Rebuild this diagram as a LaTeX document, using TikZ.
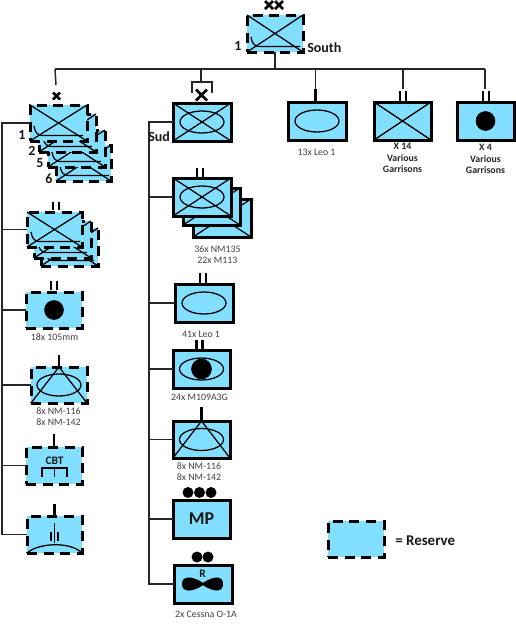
\documentclass[tikz,border=0pt]{standalone}
\usepackage{fontspec}
\setmainfont{Carlito}
\usetikzlibrary{fit}
\definecolor{unitfill}{HTML}{82DFFF}
\definecolor{labelgrey}{HTML}{404040}
\tikzset{
  solidunit/.style={draw=black,fill=unitfill,line width=2.25pt,inner sep=0pt,outer sep=0pt,rectangle},
  reserve/.style={draw=black,fill=unitfill,line width=2.25pt,inner sep=0pt,outer sep=0pt,rectangle,dash pattern=on 7.5pt off 5pt,line cap=butt},
  link/.style={draw=black!85,line width=1.1pt},
  sym/.style={draw=black,line width=0.95pt},
  tick/.style={draw=black,line width=2.2pt},
  caplab/.style={font=\fontsize{7.4}{8.2}\selectfont,text=labelgrey,align=center,inner sep=0pt},
  boldcap/.style={font=\bfseries\fontsize{7.4}{8.6}\selectfont,text=black!85,align=center,inner sep=0pt},
  biglab/.style={font=\bfseries\fontsize{10.5}{12}\selectfont,text=black!90,inner sep=0pt},
}
\newcommand\ubox[6]{\node[#1,fit={(#3+1,#4+1)(#5-1,#6-1)}] (#2) {};}
\newcommand\crossin[1]{\draw[sym] (#1.north west) -- (#1.south east) (#1.south west) -- (#1.north east);}
\newcommand\curl[1]{\begin{scope}[shift={(#1.south west)}]\draw[sym] (4,-15) .. controls (5,-9) and (7,-6) .. (12,-5.5) -- (53,-5.5);\end{scope}}
\newcommand\ellin[1]{\draw[sym] (#1.center) ellipse (22 and 11);}
\newcommand\triin[1]{\draw[sym] (#1.north) -- (#1.south west) (#1.north) -- (#1.south east);}
\newcommand\twoticks[3]{\draw[tick] (#1-3,#2) -- (#1-3,#3) (#1+3,#2) -- (#1+3,#3);}
\newcommand\bigx[3]{\draw[draw=black,line width=2pt] (#1-#3,#2-#3) -- (#1+#3,#2+#3) (#1-#3,#2+#3) -- (#1+#3,#2-#3);}
\begin{document}
\begin{tikzpicture}[x=0.75pt,y=-0.75pt]
\useasboundingbox (0,0) rectangle (516,626);

% bus and trunks
\coordinate (bus) at (275,69);
\coordinate (busL) at (55,69);
\coordinate (busR) at (485,69);
\coordinate (leftA) at (2,123);
\coordinate (leftAend) at (2,384);
\coordinate (leftB) at (2,387);
\coordinate (midA) at (149,122);
\coordinate (freeA) at (56,85);
\coordinate (freeB) at (201,82);
\coordinate (freeC) at (315.5,89);
\coordinate (freeD) at (403,89);
\coordinate (freeE) at (485,89);

% left stack 1
\ubox{reserve}{la4}{55}{144}{112}{182}
\crossin{la4}\curl{la4}
\ubox{reserve}{la3}{47}{129}{106}{168}
\crossin{la3}\curl{la3}
\ubox{reserve}{la2}{38}{113}{97}{153}
\crossin{la2}\curl{la2}
\ubox{reserve}{la1}{29}{104}{88}{142}
\crossin{la1}\curl{la1}

% left stack 2
\ubox{reserve}{lb3}{40}{227}{99}{267}
\crossin{lb3}\curl{lb3}
\ubox{reserve}{lb2}{33}{220}{92}{259}
\crossin{lb2}\curl{lb2}
\ubox{reserve}{lb1}{26}{211}{83}{248}
\crossin{lb1}\curl{lb1}

% left single units
\ubox{reserve}{lc}{25}{291}{83}{329}
\ubox{reserve}{ld}{30}{366}{88}{404}
\ubox{reserve}{le}{25}{446}{83}{485}
\ubox{reserve}{lf}{26}{515}{83}{554}

% centre column
\ubox{solidunit}{ma}{172}{102}{232}{142}
\ubox{solidunit}{mb3}{192}{198}{252}{238}
\crossin{mb3}
\ubox{solidunit}{mb2}{182}{187}{241}{226}
\crossin{mb2}
\ubox{solidunit}{mb1}{172}{177}{232}{217}
\ubox{solidunit}{mc}{174}{283}{234}{323}
\ubox{solidunit}{md}{172}{349}{231}{389}
\ubox{solidunit}{me}{172}{420}{231}{459}
\ubox{solidunit}{mf}{172}{499}{231}{539}
\ubox{solidunit}{mg}{173}{564}{233}{604}

% top row
\ubox{reserve}{top}{246}{14}{304}{53}
\ubox{solidunit}{ta}{287}{101}{347}{141}
\ubox{solidunit}{tb}{373}{101}{432}{141}
\ubox{solidunit}{tc}{456}{101}{515}{141}

% legend
\ubox{reserve}{leg}{327}{520}{385}{558}

% connectors
\draw[link] (top.south) -- (top.south |- bus);
\draw[link] (busL) -- (busR);
\draw[link] (busL) -- (freeA);
\draw[link] (freeB |- bus) -- (freeB);
\draw[link] (freeC |- bus) -- (freeC);
\draw[link] (freeD |- bus) -- (freeD);
\draw[link] (busR) -- (freeE);
\draw[tick] (freeC) -- (ta.north -| freeC);
\draw[link] (la1.west) -- (leftA) -- (leftAend);
\draw[link] (lb1.west) -- (lb1.west -| leftA);
\draw[link] (lc.west) -- (lc.west -| leftA);
\draw[link] (ld.west) -- (ld.west -| leftB) -- (lf.west -| leftB) -- (lf.west);
\draw[link] (le.west) -- (le.west -| leftB);
\draw[link] (ma.west) -- (midA) -- (mg.west -| midA) -- (mg.west);
\draw[link] (mb1.west) -- (mb1.west -| midA);
\draw[link] (mc.west) -- (mc.west -| midA);
\draw[link] (md.west) -- (md.west -| midA);
\draw[link] (me.west) -- (me.west -| midA);
\draw[link] (mf.west) -- (mf.west -| midA);

% symbols: top
\crossin{top}\curl{top}
\bigx{269}{5}{4}\bigx{279}{5}{4}
\ellin{ta}
\crossin{tb}\twoticks{403}{91}{101}
\draw[fill=black] (tc.center) circle (9.5);
\twoticks{486}{91}{101}

% symbols: left
\bigx{56.5}{96}{3.5}
\twoticks{56}{202}{210}
\twoticks{54}{281}{290}
\draw[fill=black] (lc.center) circle (9.5);
\draw[tick] (ld.north) -- ++(0,-12);
\triin{ld}\ellin{ld}
\draw[tick] (le.north) -- ++(0,-13);
\draw[sym] (42,477) -- (42,468) -- (67,468) -- (67,477) (54.5,468) -- (54.5,477);
\draw[tick] (lf.north) -- ++(0,-12);
\draw[sym] (lf.south west) .. controls (38,543) and (70,541) .. (lf.south east);
\draw[sym] (54.5,523) -- (54.5,543) (51,532) -- (51,541) (58,532) -- (58,541);

% symbols: centre
\crossin{ma}\ellin{ma}
\draw[link] (192,93) -- (192,82) -- (212,82) -- (212,93);
\bigx{201.5}{95}{5.5}
\crossin{mb1}\ellin{mb1}
\twoticks{200}{168}{177}
\ellin{mc}\twoticks{203}{273}{283}
\ellin{md}\draw[fill=black] (md.center) circle (10);
\twoticks{199.5}{340}{349}
\triin{me}\ellin{me}
\draw[tick] (me.north) -- ++(0,-14);
\foreach \dx in {188,199.5,211} \fill (\dx,492.5) circle (5.5);
\foreach \dx in {197,208} \fill (\dx,557) circle (5.5);
\fill (182,584) .. controls (182,575.5) and (192,575.5) .. (203,582.8) .. controls (214,575.5) and (223,575.5) .. (223,584) .. controls (223,592.5) and (214,592.5) .. (203,585.2) .. controls (192,592.5) and (182,592.5) .. (182,584) -- cycle;

% texts
\node[biglab,anchor=west] (lsouth) at (307,48) {South};
\node[biglab] (lone) at (238,46) {1};
\node[biglab] (l1) at (22,135) {1};
\node[biglab] (l2) at (32,151) {2};
\node[biglab] (l5) at (40,163) {5};
\node[biglab] (l6) at (49,179) {6};
\node[biglab,anchor=west] (lsud) at (148,137) {Sud};
\node[caplab] (t13) at (316.5,152) {13x Leo 1};
\node[boldcap] (t14) at (402.5,158) {X 14\\Various\\Garrisons};
\node[boldcap] (t4) at (485.5,159) {X 4\\Various\\Garrisons};
\node[caplab] (c105) at (54.5,337) {18x 105mm};
\node[caplab] (cnm) at (58.5,416.5) {8x NM-116\\8x NM-142};
\node[font=\bfseries\fontsize{8.6}{10}\selectfont,text=black!90,inner sep=0pt] (cbt) at (54.5,460.5) {CBT};
\node[caplab,anchor=west] (c36) at (194,254.5) {36x NM135\\22x M113};
\node[caplab] (c41) at (201,334) {41x Leo 1};
\node[caplab] (c24) at (199.5,397) {24x M109A3G};
\node[caplab] (c8) at (199,471.5) {8x NM-116\\8x NM-142};
\node[font=\bfseries\fontsize{13.5}{15}\selectfont,text=black!90,inner sep=0pt] (mp) at (mf.center) {MP};
\node[font=\bfseries\fontsize{8.6}{10}\selectfont,text=black!90,inner sep=0pt] (rr) at (202.5,574) {R};
\node[caplab] (ccess) at (206,614) {2x Cessna O-1A};
\node[biglab,font=\bfseries\fontsize{11.2}{12}\selectfont,anchor=west] (lres) at (395,541) {= Reserve};
\end{tikzpicture}
\end{document}
